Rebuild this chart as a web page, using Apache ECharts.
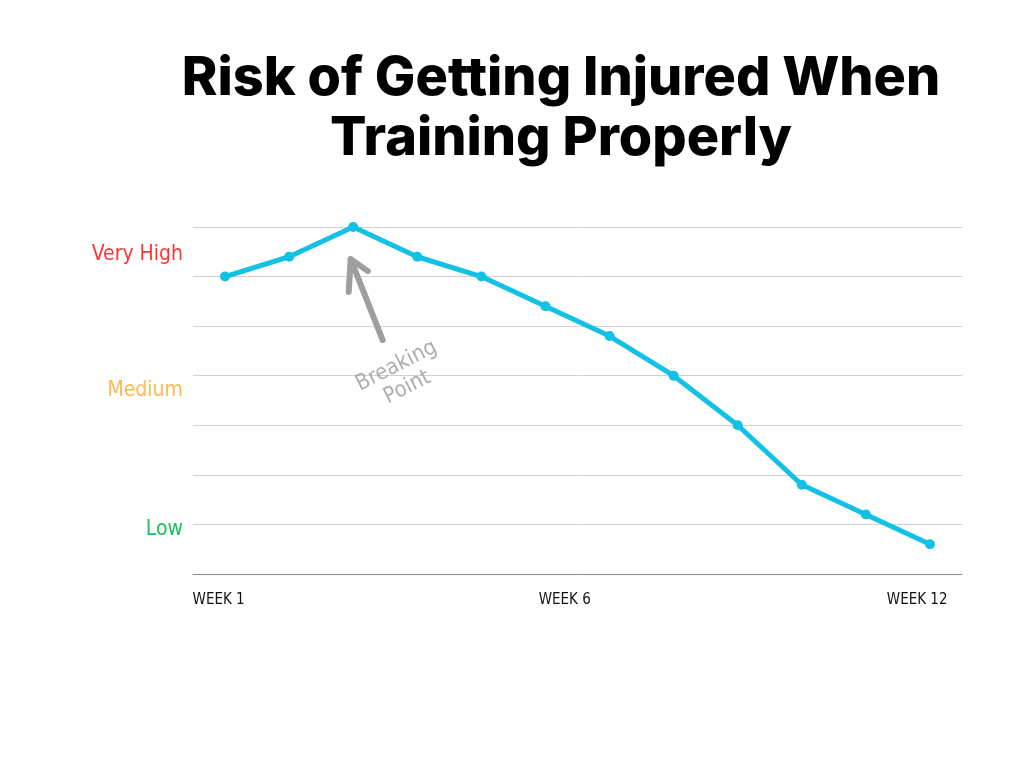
<!DOCTYPE html>
<html>
<head>
<meta charset="utf-8">
<script src="https://cdn.jsdelivr.net/npm/echarts@6/dist/echarts.min.js"></script>
<style>
html,body{margin:0;padding:0;background:#fff;}
#chart{width:1024px;height:768px;}
</style>
</head>
<body>
<div id="chart"></div>
<script>
// ---- data ----
const weeks = ['Week 1','Week 2','Week 3','Week 4','Week 5','Week 6','Week 7','Week 8','Week 9','Week 10','Week 11','Week 12'];
const risk = [6.0, 6.4, 7.0, 6.4, 6.0, 5.4, 4.8, 4.0, 3.0, 1.8, 1.2, 0.6];
const yLabelNames = ['Low', 'Medium', 'Very High'];
const yLabelPos = [0.9, 3.7, 6.45];
const yLabelStyles = ['low', 'med', 'high'];
const xLabelNames = ['WEEK 1', 'WEEK 6', 'WEEK 12'];
const xLabelPos = [-0.1, 5.3, 10.8];
// annotation (in axis units: week index, risk level)
const arrowShaft = [[2.46, 4.72], [1.96, 6.35]];
const arrowHead = [[1.93, 5.69], [1.96, 6.35], [2.23, 6.11]];
const noteText = 'Breaking\nPoint';
const notePos = [[2.76, 3.98]];

const handFont = "'DejaVu Sans Condensed', 'Liberation Sans Narrow', sans-serif";
const chart = echarts.init(document.getElementById('chart'));

function findLabel(v, pos) {
  for (let i = 0; i < pos.length; i++) {
    if (Math.abs(v - pos[i]) < 0.001) return i;
  }
  return -1;
}

chart.setOption({
  animation: false,
  backgroundColor: '#ffffff',
  title: {
    text: 'Risk of Getting Injured When\nTraining Properly',
    left: 556,
    top: 44,
    textAlign: 'center',
    textStyle: {
      fontFamily: 'Inter',
      fontWeight: 800,
      fontSize: 54,
      lineHeight: 60,
      color: '#000000'
    }
  },
  grid: { left: 193, right: 62, top: 227, bottom: 194 },
  xAxis: [
    {
      type: 'category',
      data: weeks,
      boundaryGap: true,
      axisLine: { show: true, lineStyle: { color: '#8a8a8a', width: 1 } },
      axisTick: { show: false },
      axisLabel: { show: false },
      splitLine: { show: false }
    },
    {
      type: 'value',
      min: -0.5,
      max: 11.5,
      interval: 0.1,
      position: 'bottom',
      axisLine: { show: false },
      axisTick: { show: false },
      splitLine: { show: false },
      axisLabel: {
        show: true,
        margin: 19,
        fontFamily: handFont,
        fontSize: 15,
        color: '#111111',
        formatter: function (v) {
          const i = findLabel(v, xLabelPos);
          return i >= 0 ? xLabelNames[i] : '';
        }
      }
    }
  ],
  yAxis: [
    {
      type: 'value',
      min: 0,
      max: 7,
      interval: 1,
      axisLine: { show: false },
      axisTick: { show: false },
      axisLabel: { show: false },
      splitLine: { show: true, lineStyle: { color: '#d2d2d2', width: 1 } }
    },
    {
      type: 'value',
      min: 0,
      max: 7,
      interval: 0.05,
      position: 'left',
      axisLine: { show: false },
      axisTick: { show: false },
      splitLine: { show: false },
      axisLabel: {
        show: true,
        margin: 10,
        formatter: function (v) {
          const i = findLabel(v, yLabelPos);
          return i >= 0 ? '{' + yLabelStyles[i] + '|' + yLabelNames[i] + '}' : '';
        },
        rich: {
          low: { color: '#17c15c', fontFamily: handFont, fontSize: 21 },
          med: { color: '#ffb850', fontFamily: handFont, fontSize: 21 },
          high: { color: '#ff3535', fontFamily: handFont, fontSize: 21 }
        }
      }
    }
  ],
  series: [
    {
      type: 'line',
      xAxisIndex: 0,
      yAxisIndex: 0,
      data: risk,
      symbol: 'circle',
      symbolSize: 10,
      lineStyle: { color: '#12c1e3', width: 5 },
      itemStyle: { color: '#12c1e3' },
      z: 5
    },
    {
      type: 'line',
      xAxisIndex: 1,
      yAxisIndex: 0,
      data: arrowShaft,
      symbol: 'none',
      lineStyle: { color: '#9e9e9e', width: 6, cap: 'round' },
      silent: true,
      z: 4
    },
    {
      type: 'line',
      xAxisIndex: 1,
      yAxisIndex: 0,
      data: arrowHead,
      symbol: 'none',
      lineStyle: { color: '#9e9e9e', width: 6, cap: 'round', join: 'round' },
      silent: true,
      z: 4
    },
    {
      type: 'scatter',
      xAxisIndex: 1,
      yAxisIndex: 0,
      data: notePos,
      symbolSize: 0,
      silent: true,
      label: {
        show: true,
        position: 'inside',
        formatter: noteText,
        rotate: 27,
        fontFamily: handFont,
        fontSize: 22,
        lineHeight: 24,
        color: '#9a9a9a',
        align: 'center'
      },
      z: 4
    }
  ]
});
</script>
</body>
</html>
